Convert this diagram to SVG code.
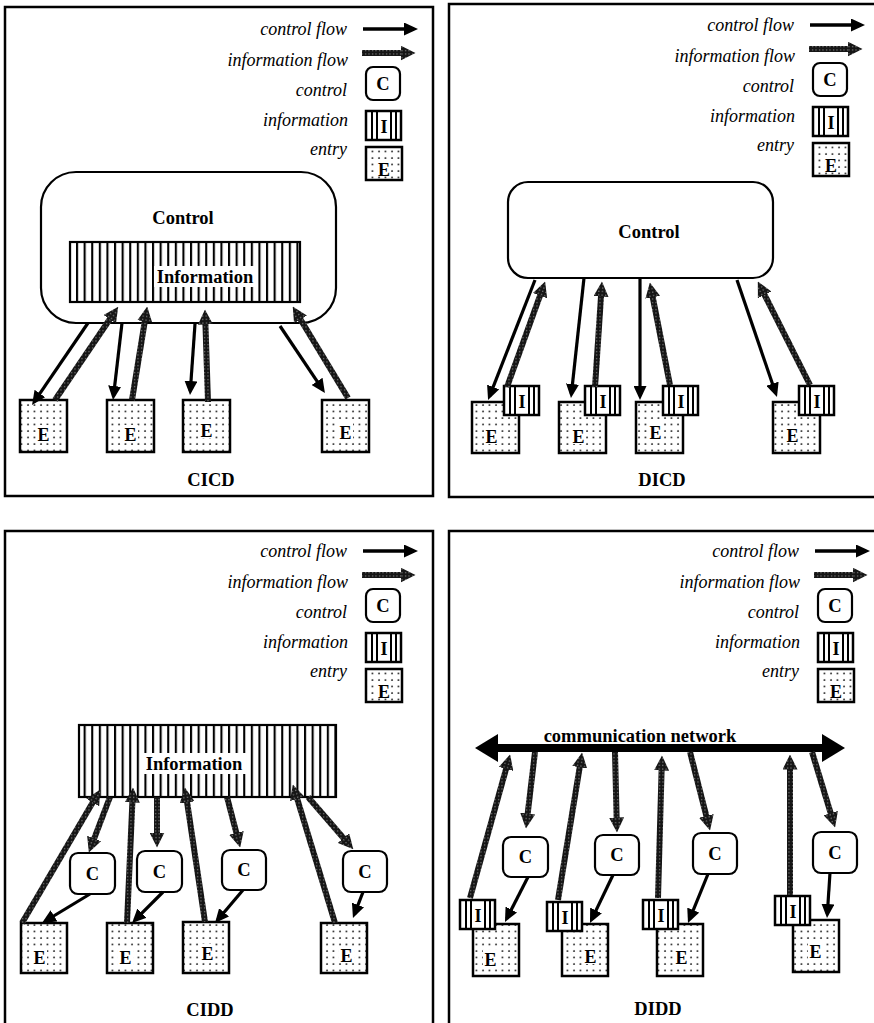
<svg xmlns="http://www.w3.org/2000/svg" xmlns:xlink="http://www.w3.org/1999/xlink" width="874" height="1023" viewBox="0 0 874 1023">
<style>
.panel{fill:none;stroke:#000;stroke-width:2.5}
.lg{font-family:"Liberation Serif",serif;font-style:italic;font-size:18px;text-anchor:end}
.bt{font-family:"Liberation Serif",serif;font-weight:bold;font-size:18.5px;text-anchor:middle}
.lt{font-family:"Liberation Serif",serif;font-weight:bold;font-size:18px;text-anchor:middle}
.ctl{fill:#fff;stroke:#000;stroke-width:2.2}
.ent{fill:url(#dots);stroke:#000;stroke-width:2.5}
.inf{fill:url(#stripes);stroke:#000;stroke-width:2.2}
.wb{fill:#fff}
.cf{stroke:#000;stroke-width:3.2;fill:none;marker-end:url(#ah)}
.if{stroke:url(#speck);stroke-width:6;fill:none;marker-end:url(#ih)}
</style>
<defs>
<pattern id="dots" width="6.5" height="6.5" patternUnits="userSpaceOnUse"><rect width="6.5" height="6.5" fill="#fff"/><circle cx="2" cy="2" r="0.9" fill="#000"/></pattern>
<pattern id="stripes" width="7.6" height="10" patternUnits="userSpaceOnUse"><rect width="7.6" height="10" fill="#fff"/><rect width="2.1" height="10" fill="#000"/></pattern>
<pattern id="speck" width="3.5" height="3.5" patternUnits="userSpaceOnUse"><rect width="3.5" height="3.5" fill="#151515"/><rect x="1" y="1" width="1.1" height="1.1" fill="#9a9a9a"/></pattern>
<marker id="ah" markerUnits="userSpaceOnUse" markerWidth="14" markerHeight="13" viewBox="0 0 14 13" refX="10" refY="6.5" orient="auto"><path d="M0,0L14,6.5L0,13Z" fill="#000"/></marker>
<marker id="ih" markerUnits="userSpaceOnUse" markerWidth="15" markerHeight="15" viewBox="0 0 15 15" refX="7.5" refY="7.5" orient="auto"><path d="M0,0L15,7.5L0,15Z" fill="url(#speck)"/></marker>
<g id="ib"><rect x="1" y="1" width="35" height="29" fill="#fff" stroke="#000" stroke-width="2.5"/><path d="M7,1V30M12,1V30M26,1V30M31,1V30" stroke="#000" stroke-width="2"/><text class="lt" x="19" y="23">I</text></g>
<g id="legend">
<text class="lg" x="347" y="35">control flow</text>
<line class="cf" x1="363" y1="29" x2="414" y2="29" style="stroke-width:3.5"/>
<text class="lg" x="348" y="66">information flow</text>
<line class="if" x1="362" y1="53" x2="408" y2="53"/>
<text class="lg" x="347" y="96">control</text>
<rect class="ctl" x="366" y="67" width="34" height="33" rx="7"/>
<text class="bt" x="383" y="90">C</text>
<text class="lg" x="348" y="126">information</text>
<use xlink:href="#ib" x="365" y="110"/>
<text class="lg" x="347" y="155">entry</text>
<rect class="ent" x="366" y="147" width="36" height="33"/>
<rect class="wb" x="378" y="161" width="13" height="15"/>
<text class="lt" x="384" y="176">E</text>
</g>
</defs>

<rect width="874" height="1023" fill="#fff"/>

<!-- panel frames -->
<g id="frames">
<rect class="panel" x="5" y="7" width="428" height="489"/>
<rect class="panel" x="449" y="4" width="440" height="493"/>
<rect class="panel" x="5" y="531" width="428" height="510"/>
<rect class="panel" x="449" y="531" width="440" height="510"/>
</g>

<!-- legends -->
<g id="legend-cicd"><use xlink:href="#legend"/></g>
<g id="legend-dicd"><use xlink:href="#legend" transform="translate(447,-4)"/></g>
<g id="legend-cidd"><use xlink:href="#legend" transform="translate(0,522)"/></g>
<g id="legend-didd"><use xlink:href="#legend" transform="translate(452,522)"/></g>

<!-- CICD -->
<g id="cicd-control"><rect class="ctl" x="41" y="172" width="295" height="151" rx="35"/><text class="bt" x="183" y="224">Control</text></g>
<g id="cicd-information"><rect class="inf" x="70" y="242" width="230" height="60"/><rect class="wb" x="154" y="266" width="103" height="21"/><text class="bt" x="205" y="283">Information</text></g>
<g id="cicd-e1"><rect class="ent" x="20" y="400" width="47" height="52"/><rect class="wb" x="36" y="425" width="15" height="17"/><text class="lt" x="43.5" y="441">E</text></g>
<g id="cicd-e2"><rect class="ent" x="107" y="400" width="47" height="52"/><rect class="wb" x="123" y="425" width="15" height="17"/><text class="lt" x="130.5" y="441">E</text></g>
<g id="cicd-e3"><rect class="ent" x="183" y="400" width="47" height="52"/><rect class="wb" x="199" y="421" width="15" height="17"/><text class="lt" x="206.5" y="437">E</text></g>
<g id="cicd-e4"><rect class="ent" x="322" y="400" width="47" height="52"/><rect class="wb" x="338" y="423" width="15" height="17"/><text class="lt" x="345.5" y="439">E</text></g>
<text class="bt" x="211" y="486">CICD</text>

<!-- DICD -->
<g id="dicd-control"><rect class="ctl" x="508" y="182" width="265" height="96" rx="20"/><text class="bt" x="649" y="238">Control</text></g>
<g id="dicd-e1"><rect class="ent" x="472" y="402" width="47" height="51"/><rect class="wb" x="484" y="427" width="15" height="17"/><text class="lt" x="491.5" y="443">E</text></g>
<g id="dicd-i1"><use xlink:href="#ib" x="503" y="385"/></g>
<g id="dicd-e2"><rect class="ent" x="559" y="402" width="47" height="51"/><rect class="wb" x="571" y="427" width="15" height="17"/><text class="lt" x="578.5" y="443">E</text></g>
<g id="dicd-i2"><use xlink:href="#ib" x="584" y="385"/></g>
<g id="dicd-e3"><rect class="ent" x="636" y="402" width="47" height="51"/><rect class="wb" x="648" y="423" width="15" height="17"/><text class="lt" x="655.5" y="439">E</text></g>
<g id="dicd-i3"><use xlink:href="#ib" x="662" y="385"/></g>
<g id="dicd-e4"><rect class="ent" x="773" y="402" width="47" height="51"/><rect class="wb" x="785" y="426" width="15" height="17"/><text class="lt" x="792.5" y="442">E</text></g>
<g id="dicd-i4"><use xlink:href="#ib" x="798" y="385"/></g>
<text class="bt" x="662" y="486">DICD</text>

<!-- CIDD -->
<g id="cidd-information"><rect class="inf" x="79" y="725" width="257" height="72"/><rect class="wb" x="142" y="753" width="104" height="21"/><text class="bt" x="194" y="770">Information</text></g>
<g id="cidd-c1"><rect class="ctl" x="70" y="853" width="45" height="41" rx="8"/><text class="bt" x="92.5" y="880">C</text></g>
<g id="cidd-c2"><rect class="ctl" x="137" y="851" width="45" height="41" rx="8"/><text class="bt" x="159.5" y="878">C</text></g>
<g id="cidd-c3"><rect class="ctl" x="222" y="850" width="44" height="40" rx="8"/><text class="bt" x="244" y="876">C</text></g>
<g id="cidd-c4"><rect class="ctl" x="343" y="851" width="44" height="41" rx="8"/><text class="bt" x="365" y="878">C</text></g>
<g id="cidd-e1"><rect class="ent" x="21" y="923" width="46" height="50"/><rect class="wb" x="32" y="948" width="15" height="17"/><text class="lt" x="39.5" y="964">E</text></g>
<g id="cidd-e2"><rect class="ent" x="107" y="923" width="46" height="50"/><rect class="wb" x="118" y="948" width="15" height="17"/><text class="lt" x="125.5" y="964">E</text></g>
<g id="cidd-e3"><rect class="ent" x="183" y="922" width="46" height="51"/><rect class="wb" x="200" y="944" width="15" height="17"/><text class="lt" x="207.5" y="960">E</text></g>
<g id="cidd-e4"><rect class="ent" x="321" y="923" width="46" height="50"/><rect class="wb" x="339" y="946" width="15" height="17"/><text class="lt" x="346.5" y="962">E</text></g>
<text class="bt" x="210" y="1016">CIDD</text>

<!-- DIDD -->
<g id="didd-network">
<rect x="494" y="744" width="332" height="8" fill="#000"/>
<path d="M475,748L498,734L498,762Z" fill="#000"/>
<path d="M845,748L822,734L822,762Z" fill="#000"/>
<rect class="wb" x="541" y="727" width="198" height="17"/>
<text class="bt" x="640" y="742">communication network</text>
</g>
<g id="didd-c1"><rect class="ctl" x="503" y="837" width="45" height="40" rx="8"/><text class="bt" x="525.5" y="863">C</text></g>
<g id="didd-c2"><rect class="ctl" x="595" y="835" width="44" height="40" rx="8"/><text class="bt" x="617" y="861">C</text></g>
<g id="didd-c3"><rect class="ctl" x="693" y="833" width="44" height="41" rx="8"/><text class="bt" x="715" y="860">C</text></g>
<g id="didd-c4"><rect class="ctl" x="813" y="832" width="44" height="41" rx="8"/><text class="bt" x="835" y="859">C</text></g>
<g id="didd-e1"><rect class="ent" x="473" y="924" width="46" height="52"/><rect class="wb" x="483" y="950" width="15" height="17"/><text class="lt" x="490.5" y="966">E</text></g>
<g id="didd-i1"><use xlink:href="#ib" x="459" y="899"/></g>
<g id="didd-e2"><rect class="ent" x="562" y="924" width="46" height="52"/><rect class="wb" x="583" y="947" width="15" height="17"/><text class="lt" x="590.5" y="963">E</text></g>
<g id="didd-i2"><use xlink:href="#ib" x="546" y="901"/></g>
<g id="didd-e3"><rect class="ent" x="657" y="924" width="46" height="52"/><rect class="wb" x="674" y="948" width="15" height="17"/><text class="lt" x="681.5" y="964">E</text></g>
<g id="didd-i3"><use xlink:href="#ib" x="642" y="899"/></g>
<g id="didd-e4"><rect class="ent" x="793" y="920" width="46" height="52"/><rect class="wb" x="808" y="942" width="15" height="17"/><text class="lt" x="815.5" y="958">E</text></g>
<g id="didd-i4"><use xlink:href="#ib" x="774" y="895"/></g>
<text class="bt" x="658" y="1015">DIDD</text>

<!-- connectors -->
<g id="connectors">
<g id="cicd-flows">
<line class="cf" x1="88" y1="323" x2="34.3" y2="401.7"/>
<line class="if" x1="55" y1="400" x2="114" y2="313"/>
<line class="cf" x1="122" y1="323" x2="113.5" y2="396"/>
<line class="if" x1="132" y1="400" x2="146" y2="314"/>
<line class="cf" x1="195" y1="324" x2="190.3" y2="391"/>
<line class="if" x1="208" y1="402" x2="205.2" y2="317"/>
<line class="cf" x1="280" y1="326" x2="322.7" y2="389.7"/>
<line class="if" x1="348" y1="398" x2="296.6" y2="313"/>
</g>
<g id="dicd-flows">
<line class="cf" x1="535" y1="280" x2="489.5" y2="396.3"/>
<line class="if" x1="507" y1="387" x2="542.6" y2="288.6"/>
<line class="cf" x1="584" y1="278" x2="571.4" y2="394"/>
<line class="if" x1="595" y1="387" x2="601.5" y2="289"/>
<line class="cf" x1="640" y1="278" x2="640" y2="396"/>
<line class="if" x1="670" y1="385" x2="651.3" y2="289.9"/>
<line class="cf" x1="737" y1="280" x2="775.7" y2="393.2"/>
<line class="if" x1="810" y1="385" x2="761.2" y2="288.2"/>
</g>
<g id="cidd-flows">
<line class="if" x1="22" y1="923" x2="96.5" y2="796"/>
<line class="if" x1="110" y1="797" x2="91.5" y2="845.5"/>
<line class="if" x1="127" y1="923" x2="132.7" y2="795"/>
<line class="if" x1="157" y1="797" x2="157" y2="840"/>
<line class="if" x1="205" y1="922" x2="186" y2="795"/>
<line class="if" x1="227" y1="797" x2="238.3" y2="840.2"/>
<line class="if" x1="335" y1="923" x2="295" y2="791.7"/>
<line class="if" x1="308" y1="797" x2="348.4" y2="843.7"/>
<line class="cf" x1="90" y1="894" x2="45.4" y2="921"/>
<line class="cf" x1="163" y1="892" x2="134.9" y2="920.2"/>
<line class="cf" x1="243" y1="890" x2="217.6" y2="920"/>
<line class="cf" x1="363" y1="892" x2="354.4" y2="914.3"/>
</g>
<g id="didd-flows">
<line class="if" x1="470" y1="898" x2="508.1" y2="761.7"/>
<line class="if" x1="535" y1="752" x2="526.8" y2="821"/>
<line class="if" x1="558" y1="900" x2="580.9" y2="759.9"/>
<line class="if" x1="615" y1="752" x2="616.8" y2="825"/>
<line class="if" x1="658" y1="898" x2="661.8" y2="763"/>
<line class="if" x1="690" y1="752" x2="708.2" y2="823.2"/>
<line class="if" x1="790" y1="895" x2="790" y2="762"/>
<line class="if" x1="812" y1="752" x2="832.9" y2="820.3"/>
<line class="cf" x1="528" y1="877" x2="506.8" y2="918.4"/>
<line class="cf" x1="613" y1="875" x2="591.7" y2="919.4"/>
<line class="cf" x1="708" y1="874" x2="689.5" y2="919.3"/>
<line class="cf" x1="830" y1="873" x2="827.3" y2="914"/>
</g>
</g>
</svg>
